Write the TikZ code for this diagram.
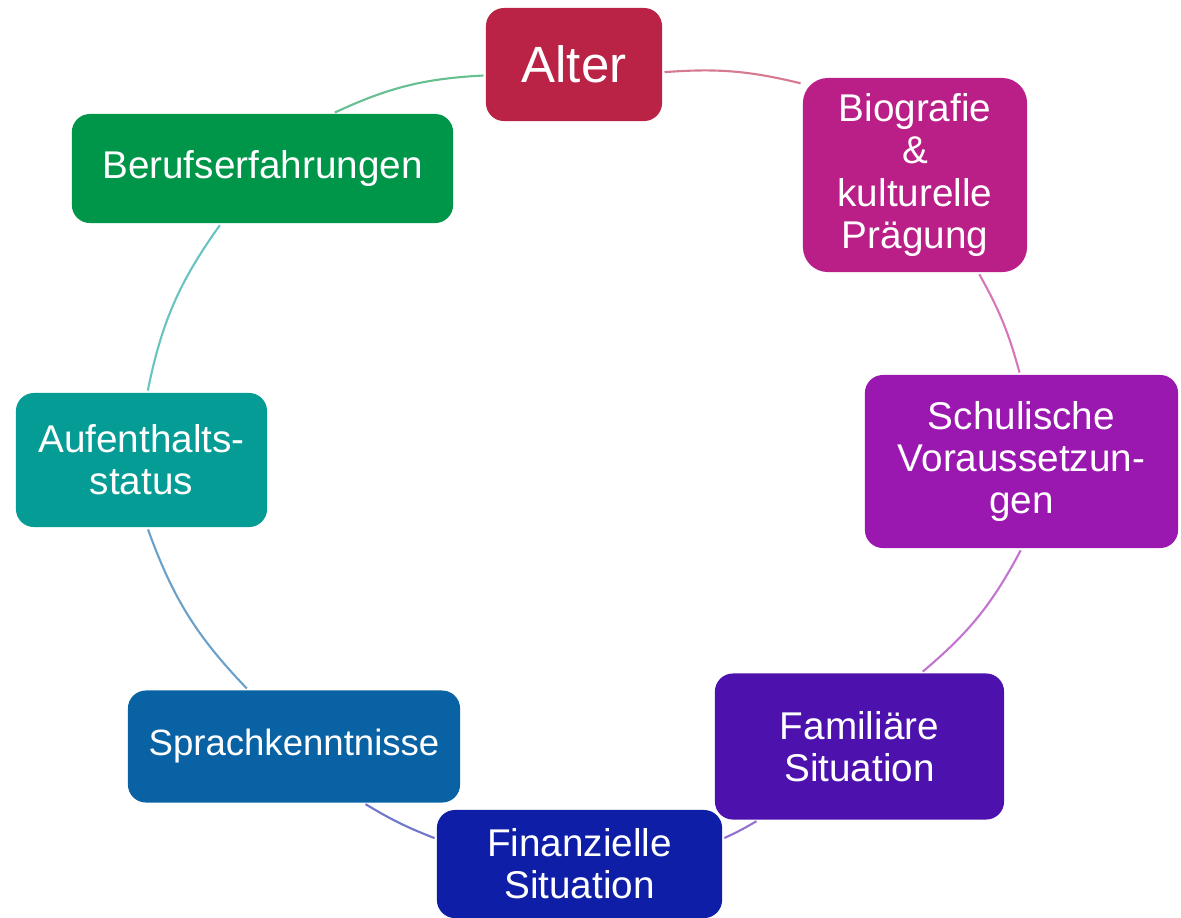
\documentclass[tikz,border=0pt]{standalone}
\usepackage{fontspec}
\setmainfont{Liberation Sans}
\usepackage{xcolor}
\definecolor{alterRed}{HTML}{BA2345}
\definecolor{bioMagenta}{HTML}{BA1E87}
\definecolor{schulPurple}{HTML}{9B18B0}
\definecolor{familViolet}{HTML}{4D12AD}
\definecolor{finanzBlue}{HTML}{0F1EA6}
\definecolor{sprachBlue}{HTML}{0962A3}
\definecolor{aufentTeal}{HTML}{059C96}
\definecolor{berufGreen}{HTML}{009649}
\tikzset{%
  cyclenode/.style={rectangle, rounded corners=1.8mm, fill=#1, text=white, inner sep=0pt, align=center, font=\fontsize{11}{12}\selectfont},
  %
  cyclearc/.style={draw=#1!60, line width=0.6pt, shorten <=0.5pt, shorten >=0.5pt}}

\begin{document}
\begin{tikzpicture}[x=0.01cm, y=-0.01cm]
        \useasboundingbox (0,0) rectangle (1181,917);

        %Nodes
        \node[cyclenode=alterRed, minimum width=1.76cm, minimum height=1.13cm, font=\fontsize{14.5}{16}\selectfont] (alter) at (574,64.5) {Alter};
        \node[cyclenode=bioMagenta, rounded corners=2.5mm, minimum width=2.24cm, minimum height=1.94cm] (bio) at (915,175) {Biografie\\\&\\kulturelle\\Prägung};
        \node[cyclenode=schulPurple, minimum width=3.13cm, minimum height=1.73cm] (schul) at (1021.5,461.5) {Schulische\\Voraussetzun-\\gen};
        \node[cyclenode=familViolet, minimum width=2.89cm, minimum height=1.46cm] (famil) at (859.5,746.5) {Familiäre\\Situation};
        \node[cyclenode=finanzBlue, minimum width=2.85cm, minimum height=1.08cm] (finanz) at (579.5,864) {Finanzielle\\Situation};
        \node[cyclenode=sprachBlue, minimum width=3.32cm, minimum height=1.12cm, font=\fontsize{10.4}{12}\selectfont] (sprach) at (294,746.5) {Sprachkenntnisse};
        \node[cyclenode=aufentTeal, minimum width=2.51cm, minimum height=1.34cm] (aufent) at (141.5,460) {Aufenthalts-\\status};
        \node[cyclenode=berufGreen, minimum width=3.81cm, minimum height=1.09cm] (beruf) at (262.5,168.5) {Berufserfahrungen};

        %Lines
        \draw[cyclearc=alterRed] (alter.-5) to[bend left=9] (bio.141);
        \draw[cyclearc=bioMagenta] (bio.-57) to[bend left=7] (schul.91);
        \draw[cyclearc=schulPurple] (schul.-90) to[bend left=11] (famil.50);
        \draw[cyclearc=familViolet] (famil.-144) to[bend left=3] (finanz.10);
        \draw[cyclearc=finanzBlue] (finanz.170) to[bend left=5] (sprach.-39);
        \draw[cyclearc=sprachBlue] (sprach.129) to[bend left=12] (aufent.-85);
        \draw[cyclearc=aufentTeal] (aufent.85) to[bend left=12] (beruf.-127);
        \draw[cyclearc=berufGreen] (beruf.38) to[bend left=11] (alter.-173);
    \end{tikzpicture}
\end{document}
